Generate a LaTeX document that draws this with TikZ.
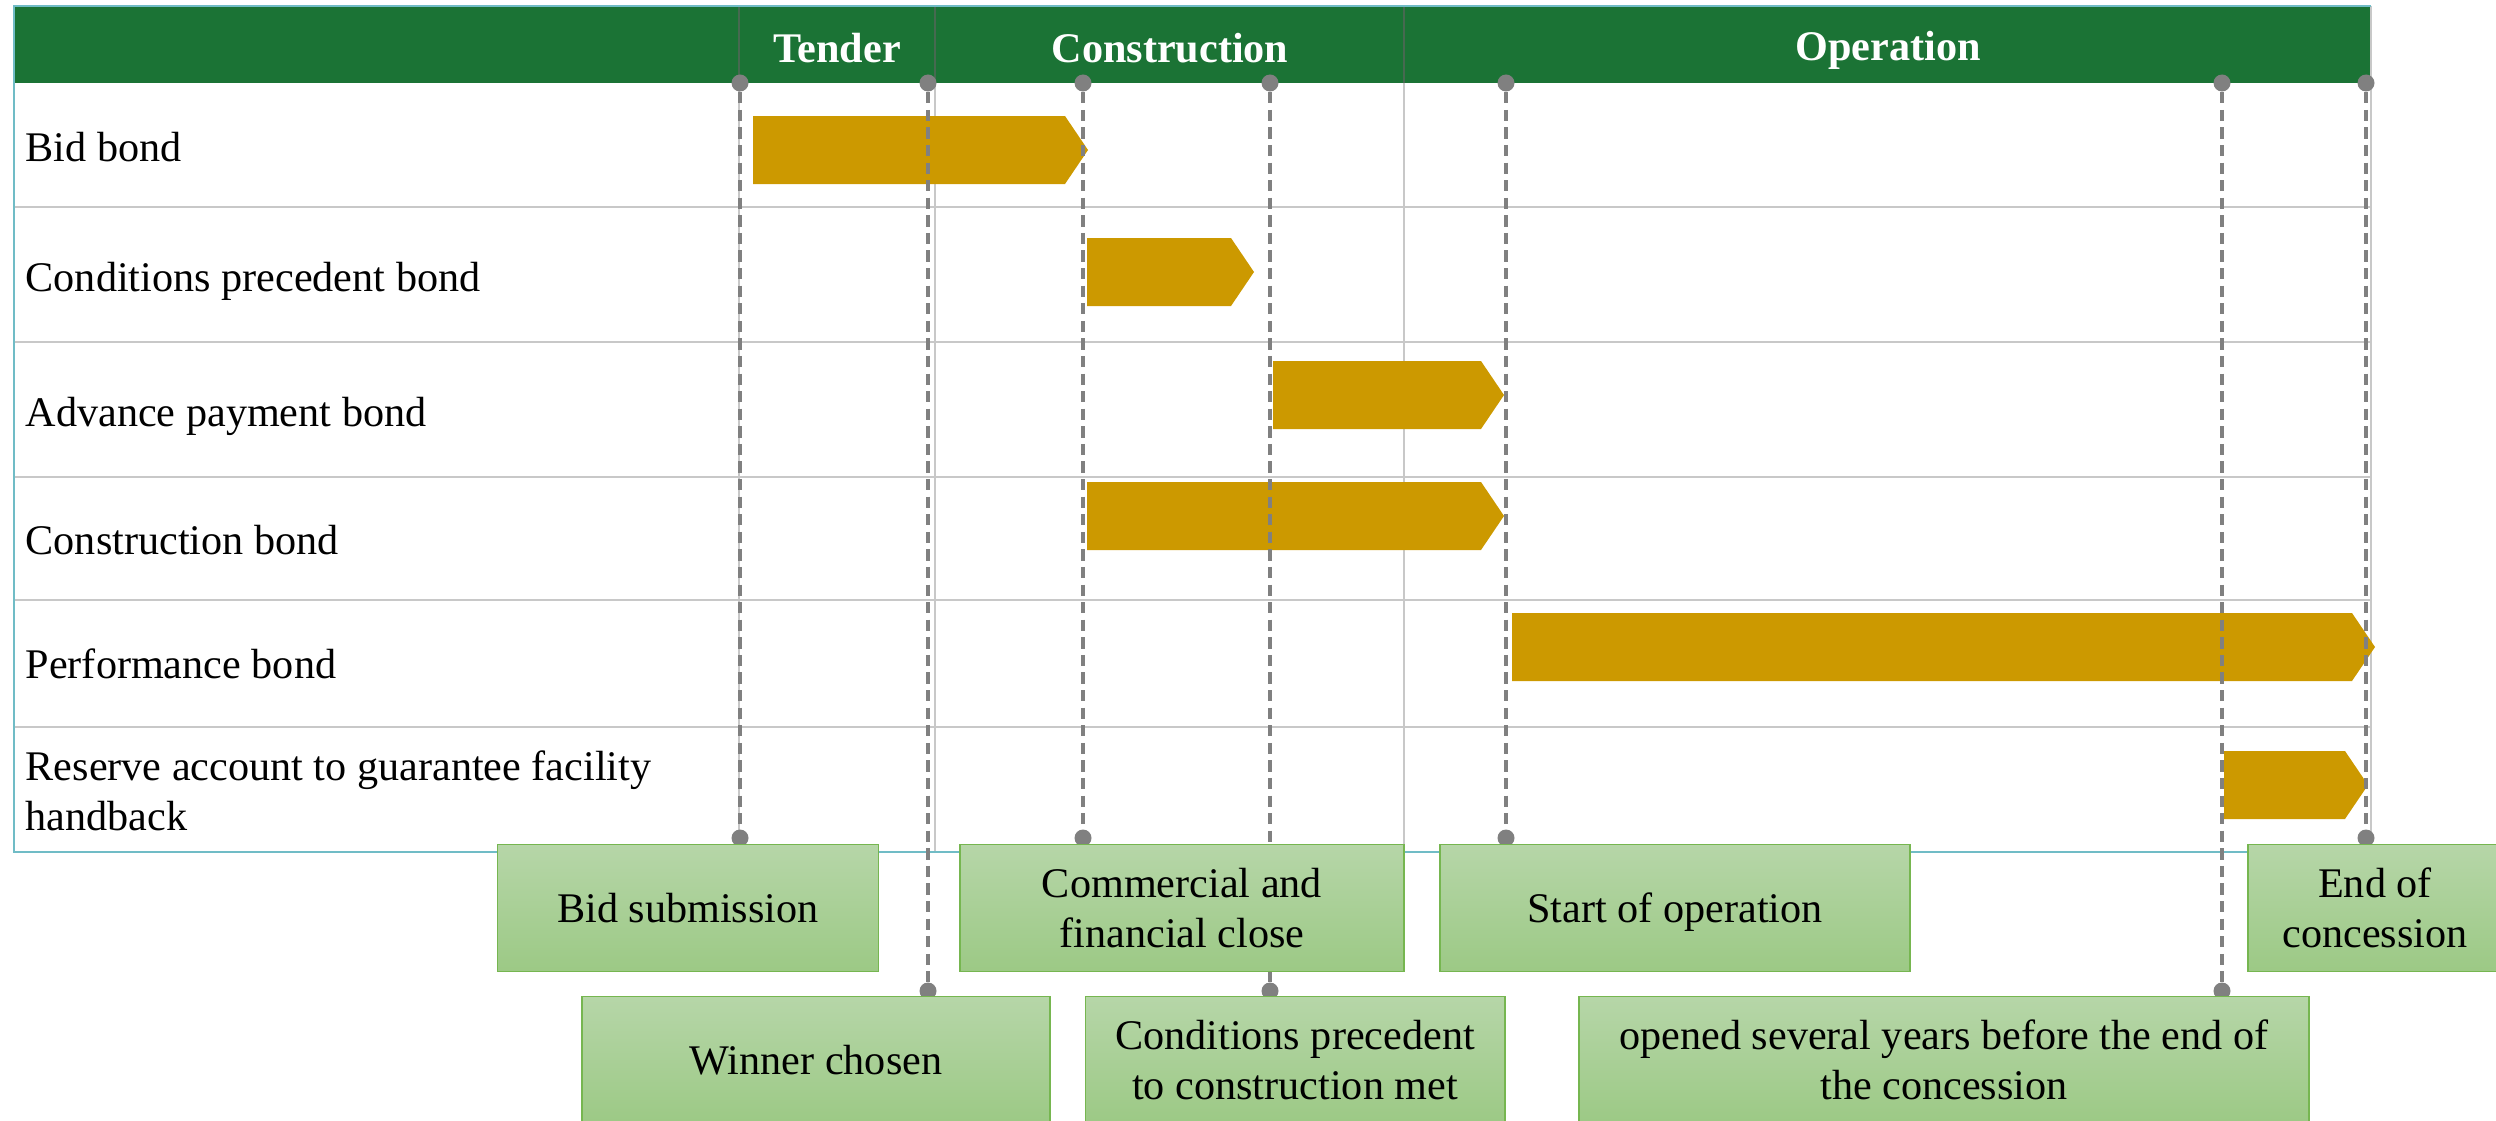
\documentclass[tikz,border=0pt]{standalone}
\usepackage{fontspec}
\setmainfont{Liberation Serif}
\definecolor{headgreen}{RGB}{27,115,53}
\definecolor{headline}{RGB}{70,105,80}
\definecolor{bondgold}{RGB}{204,153,0}
\definecolor{rimteal}{RGB}{112,188,198}
\definecolor{gridgray}{RGB}{200,200,200}
\definecolor{dashgray}{RGB}{128,128,128}
\definecolor{boxtop}{RGB}{182,214,168}
\definecolor{boxbottom}{RGB}{156,201,133}
\definecolor{boxrim}{RGB}{118,182,80}

\begin{document}
\begin{tikzpicture}[x=0.01cm,y=-0.01cm,font=\fontsize{12}{14.4}\selectfont]
		\tikzset{gdot/.style = {circle, fill=dashgray, inner sep=0pt, minimum size=0.17cm}}
		\tikzset{edge/.style = {draw=dashgray, line width=1pt, dash pattern=on 3.2pt off 1.8pt}}
		\tikzset{event/.style = {draw=boxrim, line width=0.5pt, top color=boxtop, bottom color=boxbottom, minimum height=1.27cm, align=center, inner sep=0pt}}
		\tikzset{bond/.style = {fill=bondgold}}
		\tikzset{grid/.style = {draw=gridgray, line width=0.5pt}}
		\tikzset{rowtext/.style = {anchor=west, align=left, inner sep=0pt}}
		\tikzset{phase/.style = {text=white, font=\fontsize{12}{14.4}\selectfont\bfseries}}
		
		\useasboundingbox (0,0) rectangle (2496,1121);
		
		% table
		\fill[headgreen] (14,6) rectangle (2371,83);
		\draw[grid] (14,207) -- (2371,207);
		\draw[grid] (14,342) -- (2371,342);
		\draw[grid] (14,477) -- (2371,477);
		\draw[grid] (14,600) -- (2371,600);
		\draw[grid] (14,727) -- (2371,727);
		\draw[grid] (739,83) -- (739,852);
		\draw[grid] (935,83) -- (935,852);
		\draw[grid] (1404,83) -- (1404,852);
		\draw[grid] (2371,6) -- (2371,852);
		\draw[headline, line width=0.4pt] (739,6) -- (739,83);
		\draw[headline, line width=0.4pt] (935,6) -- (935,83);
		\draw[headline, line width=0.4pt] (1404,6) -- (1404,83);
		\draw[rimteal, line width=0.5pt] (2371,6) -- (14,6) -- (14,852) -- (2371,852);
		
		\node[phase] (41) at ( 837,48) {Tender};
		\node[phase] (42) at (1170,48) {Construction};
		\node[phase] (43) at (1888,50) {Operation};
		
		\node[rowtext] (31) at (25,147) {Bid bond};
		\node[rowtext] (32) at (25,281) {Conditions precedent bond};
		\node[rowtext] (33) at (25,416) {Advance payment bond};
		\node[rowtext] (34) at (25,540) {Construction bond};
		\node[rowtext] (35) at (25,664) {Performance bond};
		\node[rowtext] (36) at (25,791) {Reserve account to guarantee facility\\handback};
		
		% bonds
		\fill[bond] ( 753,116) -- (1065,116) -- (1088,150) -- (1065,184) -- ( 753,184) -- cycle;
		\fill[bond] (1087,238) -- (1231,238) -- (1254,272) -- (1231,306) -- (1087,306) -- cycle;
		\fill[bond] (1273,361) -- (1481,361) -- (1504,395) -- (1481,429) -- (1273,429) -- cycle;
		\fill[bond] (1087,482) -- (1481,482) -- (1504,516) -- (1481,550) -- (1087,550) -- cycle;
		\fill[bond] (1512,613) -- (2352,613) -- (2375,647) -- (2352,681) -- (1512,681) -- cycle;
		\fill[bond] (2224,751) -- (2345,751) -- (2368,785) -- (2345,819) -- (2224,819) -- cycle;
		
		% milestones
		\node[gdot]  (1) at ( 740, 83) {};
		\node[gdot]  (2) at ( 928, 83) {};
		\node[gdot]  (3) at (1083, 83) {};
		\node[gdot]  (4) at (1270, 83) {};
		\node[gdot]  (5) at (1506, 83) {};
		\node[gdot]  (6) at (2222, 83) {};
		\node[gdot]  (7) at (2366, 83) {};
		\node[gdot] (11) at ( 740,838) {};
		\node[gdot] (12) at ( 928,991) {};
		\node[gdot] (13) at (1083,838) {};
		\node[gdot] (14) at (1270,991) {};
		\node[gdot] (15) at (1506,838) {};
		\node[gdot] (16) at (2222,991) {};
		\node[gdot] (17) at (2366,838) {};
		
		\draw[edge] (1) to (11);
		\draw[edge] (2) to (12);
		\draw[edge] (3) to (13);
		\draw[edge] (4) to (14);
		\draw[edge] (5) to (15);
		\draw[edge] (6) to (16);
		\draw[edge] (7) to (17);
		
		\node[event, minimum width=3.81cm] (21) at ( 688, 908) {Bid submission};
		\node[event, minimum width=4.44cm] (22) at (1182, 908) {Commercial and\\financial close};
		\node[event, minimum width=4.70cm, text depth=0pt] (23) at (1675, 908) {Start of operation};
		\node[event, minimum width=2.54cm] (24) at (2375, 908) {End of\\concession};
		\node[event, minimum width=4.68cm] (25) at ( 816,1060) {Winner chosen};
		\node[event, minimum width=4.19cm] (26) at (1295,1060) {Conditions precedent\\to construction met};
		\node[event, minimum width=7.29cm] (27) at (1944,1060) {opened several years before the end of\\the concession};
\end{tikzpicture}
\end{document}
